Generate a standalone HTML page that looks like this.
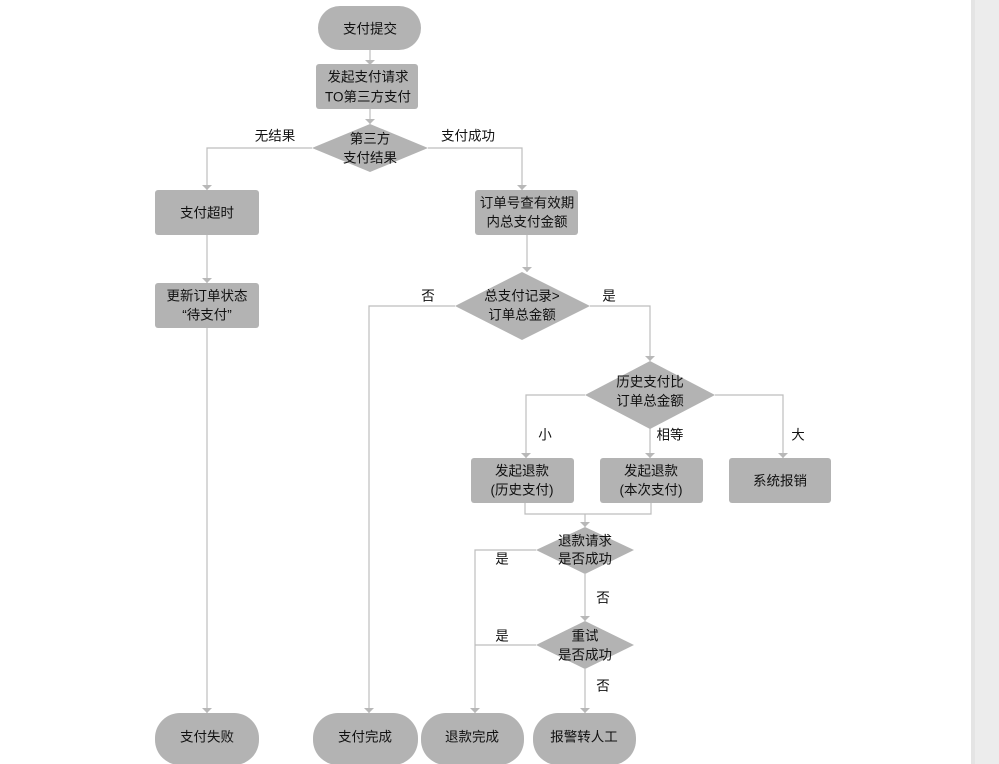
<!DOCTYPE html>
<html><head><meta charset="utf-8"><style>
html,body{margin:0;padding:0;background:#fff;width:999px;height:764px;overflow:hidden}
svg text{font-family:"Liberation Sans","Noto Sans CJK SC",sans-serif;font-size:13.5px;fill:#111;text-anchor:middle;dominant-baseline:central}
</style></head><body>
<svg width="999" height="764" viewBox="0 0 999 764" xmlns="http://www.w3.org/2000/svg">
<defs><marker id="a" markerWidth="10" markerHeight="8" refX="5" refY="7" orient="auto" markerUnits="userSpaceOnUse"><path d="M0,1 L10,1 L5,7 Z" fill="#b8b8b8" transform="rotate(-90 5 4)"/></marker></defs>
<rect x="971" y="0" width="28" height="764" fill="#ececec"/>
<rect x="971" y="0" width="4" height="764" fill="#e4e4e4"/>
<g stroke="#bdbdbd" stroke-width="1.2" fill="none">
<path d="M370 50V64"/><path d="M370 109V124"/>
<path d="M312 148H207V190"/><path d="M428 148H522V190"/>
<path d="M207 235V283"/><path d="M207 328V713"/>
<path d="M527 235V272"/>
<path d="M455 306H369V713"/>
<path d="M590 306H650V361"/>
<path d="M585 395H526V458"/><path d="M650 419V458"/><path d="M715 395H783V458"/>
<path d="M525 503V514H651V503"/><path d="M585 514V527"/>
<path d="M536 550H475V713"/><path d="M585 574V621"/><path d="M536 645H475"/><path d="M585 669V713"/>
</g>
<g fill="#b8b8b8">
<path d="M365 60h10l-5 5z"/><path d="M365 119h10l-5 5z"/>
<path d="M202 185h10l-5 5z"/><path d="M517 185h10l-5 5z"/>
<path d="M202 278h10l-5 5z"/><path d="M522 267h10l-5 5z"/>
<path d="M645 356h10l-5 5z"/>
<path d="M521 453h10l-5 5z"/><path d="M645 453h10l-5 5z"/><path d="M778 453h10l-5 5z"/>
<path d="M580 522h10l-5 5z"/><path d="M580 616h10l-5 5z"/>
<path d="M202 708h10l-5 5z"/><path d="M364 708h10l-5 5z"/><path d="M470 708h10l-5 5z"/><path d="M580 708h10l-5 5z"/>
</g>
<g fill="#b3b3b3">
<rect x="318" y="6" width="103" height="44" rx="22"/>
<rect x="316" y="64" width="102" height="45" rx="3"/>
<path d="M370 124L428 148L370 172L312 148Z"/>
<rect x="155" y="190" width="104" height="45" rx="3"/>
<rect x="475" y="190" width="103" height="45" rx="3"/>
<rect x="155" y="283" width="104" height="45" rx="3"/>
<path d="M522 272L590 306L522 340L455 306Z"/>
<path d="M650 361L715 395L650 429L585 395Z"/>
<rect x="471" y="458" width="103" height="45" rx="3"/>
<rect x="600" y="458" width="103" height="45" rx="3"/>
<rect x="729" y="458" width="102" height="45" rx="3"/>
<path d="M585 527L634 550L585 574L536 550Z"/>
<path d="M585 621L634 645L585 669L536 645Z"/>
<rect x="155" y="713" width="104" height="52" rx="25"/>
<rect x="313" y="713" width="105" height="52" rx="25"/>
<rect x="421" y="713" width="103" height="52" rx="25"/>
<rect x="533" y="713" width="103" height="52" rx="25"/>
</g>
<text x="370" y="29">支付提交</text>
<text x="368" y="77">发起支付请求</text><text x="368" y="97">TO第三方支付</text>
<text x="370" y="139">第三方</text><text x="370" y="158">支付结果</text>
<text x="275" y="136">无结果</text><text x="468" y="136">支付成功</text>
<text x="207" y="213">支付超时</text>
<text x="527" y="203">订单号查有效期</text><text x="527" y="222">内总支付金额</text>
<text x="207" y="296">更新订单状态</text><text x="207" y="315">“待支付”</text>
<text x="522" y="296">总支付记录&gt;</text><text x="522" y="315">订单总金额</text>
<text x="428" y="296">否</text><text x="609" y="296">是</text>
<text x="650" y="382">历史支付比</text><text x="650" y="401">订单总金额</text>
<text x="545" y="435">小</text><text x="670" y="435">相等</text><text x="798" y="435">大</text>
<text x="522" y="471">发起退款</text><text x="522" y="490">(历史支付)</text>
<text x="651" y="471">发起退款</text><text x="651" y="490">(本次支付)</text>
<text x="780" y="481">系统报销</text>
<text x="585" y="541">退款请求</text><text x="585" y="559">是否成功</text>
<text x="502" y="559">是</text><text x="603" y="598">否</text>
<text x="585" y="636">重试</text><text x="585" y="655">是否成功</text>
<text x="502" y="636">是</text><text x="603" y="686">否</text>
<text x="207" y="737">支付失败</text><text x="365" y="737">支付完成</text>
<text x="472" y="737">退款完成</text><text x="584" y="737">报警转人工</text>
</svg>
</body></html>
